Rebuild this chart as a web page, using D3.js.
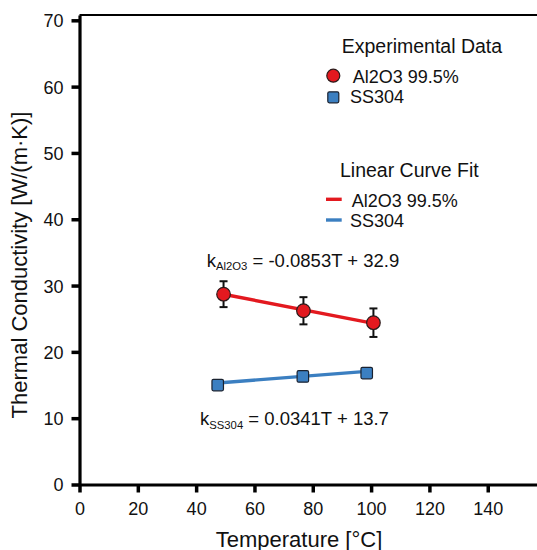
<!DOCTYPE html>
<html>
<head>
<meta charset="utf-8">
<script src="https://cdn.jsdelivr.net/npm/d3@7"></script>
<style>
  html, body { margin: 0; padding: 0; background: #fff; }
  svg { display: block; font-family: "Liberation Sans", Arial, sans-serif; }
</style>
</head>
<body>
<svg id="chart" width="537" height="550"></svg>
<script>
// ---- data ----
const alTemps = [49.4, 76.8, 100.8];
const alK = [28.7, 26.2, 24.4];
const alErr = [1.95, 2.05, 2.15];
const ssTemps = [47.4, 76.6, 98.5];
const ssK = [15.0, 16.3, 16.8];
const fitSlopes = [-0.0853, 0.0341];
const fitIntercepts = [32.9, 13.7];
const xTicks = [0, 20, 40, 60, 80, 100, 120, 140];
const yTicks = [0, 10, 20, 30, 40, 50, 60, 70];
const seriesNames = ["Al2O3 99.5%", "SS304"];
const subNames = ["Al2O3", "SS304"];

const RED = "#e3191f", BLUE = "#3b7fc1", EDGE = "#2a1a1a";

const svg = d3.select("#chart");
const x = d3.scaleLinear().domain([0, 157]).range([79.5, 537.3]);
const y = d3.scaleLinear().domain([0, 70.8]).range([484.5, 15]);

// frame top line
svg.append("line").attr("x1", x(0)).attr("x2", 537).attr("y1", y(70.8)).attr("y2", y(70.8))
  .attr("stroke", "#000").attr("stroke-width", 2);

// axes
const gx = svg.append("g").attr("transform", `translate(0,${y(0)})`)
  .call(d3.axisBottom(x).tickValues(xTicks).tickSize(8).tickSizeOuter(0).tickPadding(8));
const gy = svg.append("g").attr("transform", `translate(${x(0)},0)`)
  .call(d3.axisLeft(y).tickValues(yTicks).tickSize(8).tickSizeOuter(0).tickPadding(8));
[gx, gy].forEach(g => {
  g.select(".domain").attr("stroke", "#000").attr("stroke-width", 3.2);
  g.selectAll(".tick line").attr("stroke", "#000").attr("stroke-width", 3.5);
  g.selectAll(".tick text").attr("fill", "#111").style("font-size", "18px")
    .style("font-family", "'Liberation Sans', Arial, sans-serif");
});
gx.selectAll(".tick text").attr("dy", "0.8em");
gy.selectAll(".tick text").attr("dy", "0.36em");

// axis titles
svg.append("text").attr("x", 299).attr("y", 546.5).attr("text-anchor", "middle")
  .style("font-size", "22px").attr("fill", "#111").text("Temperature [°C]");
svg.append("text").attr("transform", `translate(26.7,265) rotate(-90)`).attr("text-anchor", "middle")
  .style("font-size", "22px").attr("fill", "#111").text("Thermal Conductivity [W/(m·K)]");

// fit lines
const fitSets = [alTemps, ssTemps];
const fitColors = [RED, BLUE];
fitSets.forEach((ts, i) => {
  const x0 = d3.min(ts), x1 = d3.max(ts);
  svg.append("line")
    .attr("x1", x(x0)).attr("y1", y(fitSlopes[i] * x0 + fitIntercepts[i]))
    .attr("x2", x(x1)).attr("y2", y(fitSlopes[i] * x1 + fitIntercepts[i]))
    .attr("stroke", fitColors[i]).attr("stroke-width", 3.4);
});

// error bars
const alData = alTemps.map((t, i) => ({t, k: alK[i], e: alErr[i]}));
const eb = svg.append("g").attr("stroke", "#111").attr("stroke-width", 2);
alData.forEach(d => {
  eb.append("line").attr("x1", x(d.t)).attr("x2", x(d.t)).attr("y1", y(d.k - d.e)).attr("y2", y(d.k + d.e));
  [d.k - d.e, d.k + d.e].forEach(v =>
    eb.append("line").attr("x1", x(d.t) - 4).attr("x2", x(d.t) + 4).attr("y1", y(v)).attr("y2", y(v)));
});

// markers
svg.append("g").selectAll("circle").data(alData).join("circle")
  .attr("cx", d => x(d.t)).attr("cy", d => y(d.k)).attr("r", 6.8)
  .attr("fill", RED).attr("stroke", EDGE).attr("stroke-width", 1.2);
const ssData = ssTemps.map((t, i) => ({t, k: ssK[i]}));
const S = 11.5;
svg.append("g").selectAll("rect").data(ssData).join("rect")
  .attr("x", d => x(d.t) - S / 2).attr("y", d => y(d.k) - S / 2).attr("width", S).attr("height", S)
  .attr("rx", 1.5).attr("fill", BLUE).attr("stroke", "#1a2230").attr("stroke-width", 1.2);

// equations
function equation(xp, yp, sub, rest) {
  const t = svg.append("text").attr("x", xp).attr("y", yp).attr("fill", "#111").style("font-size", "18.5px");
  t.append("tspan").text("k");
  t.append("tspan").attr("dy", 3.5).style("font-size", "11.3px").text(sub);
  t.append("tspan").attr("dy", -3.5).text(" " + rest);
}
equation(206.7, 266.5, subNames[0], `= ${fitSlopes[0]}T + ${fitIntercepts[0]}`);
equation(200, 425, subNames[1], `= ${fitSlopes[1]}T + ${fitIntercepts[1]}`);

// legend
const lg = svg.append("g").attr("fill", "#111");
lg.append("text").attr("x", 341.7).attr("y", 53.3).style("font-size", "19.5px").text("Experimental Data");
lg.append("circle").attr("cx", 333.3).attr("cy", 75.7).attr("r", 6.5).attr("fill", RED).attr("stroke", EDGE).attr("stroke-width", 1.2);
lg.append("text").attr("x", 352.7).attr("y", 83.3).style("font-size", "18px").text(seriesNames[0]);
lg.append("rect").attr("x", 333.3 - 5.5).attr("y", 97.3 - 5.5).attr("width", 11).attr("height", 11).attr("rx", 1.5)
  .attr("fill", BLUE).attr("stroke", "#1a2230").attr("stroke-width", 1.2);
lg.append("text").attr("x", 350).attr("y", 102.5).style("font-size", "18px").text(seriesNames[1]);

lg.append("text").attr("x", 340).attr("y", 176.7).style("font-size", "19.5px").text("Linear Curve Fit");
lg.append("line").attr("x1", 326).attr("x2", 341.7).attr("y1", 199.3).attr("y2", 199.3).attr("stroke", RED).attr("stroke-width", 3.4);
lg.append("text").attr("x", 351.7).attr("y", 206.7).style("font-size", "18px").text(seriesNames[0]);
lg.append("line").attr("x1", 326).attr("x2", 341.7).attr("y1", 220).attr("y2", 220).attr("stroke", BLUE).attr("stroke-width", 3.4);
lg.append("text").attr("x", 350).attr("y", 226.5).style("font-size", "18px").text(seriesNames[1]);
</script>
</body>
</html>
